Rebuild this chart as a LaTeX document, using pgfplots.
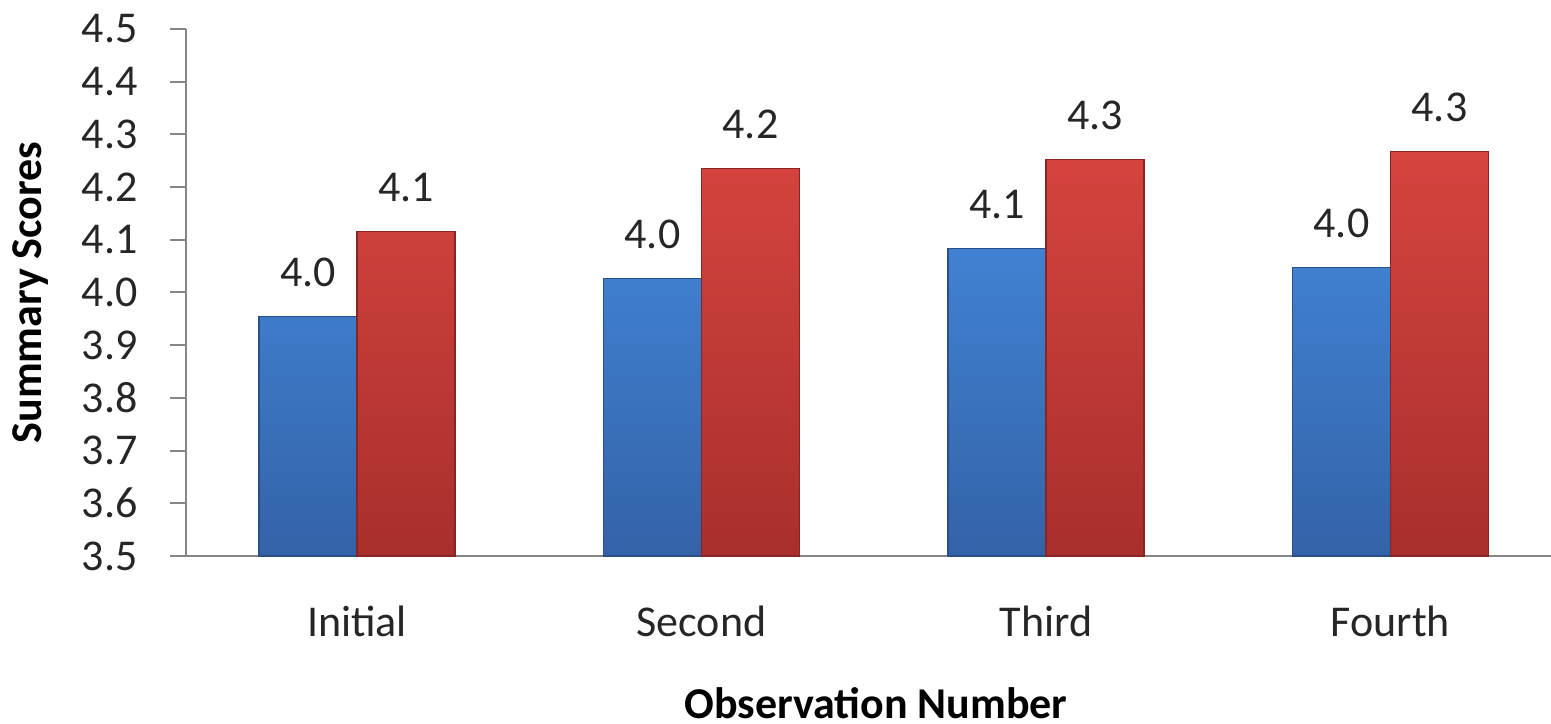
\documentclass[border=0pt]{standalone}
\usepackage{pgfplots}
\pgfplotsset{compat=1.18}
\usepackage{fontspec}
\setmainfont{Carlito}
\definecolor{barblue}{HTML}{4082D2}
\definecolor{barbluedark}{HTML}{3462A8}
\definecolor{barred}{HTML}{D6443F}
\definecolor{barreddark}{HTML}{A82F2C}
\definecolor{axisgray}{HTML}{868686}
\begin{document}
\fontsize{11pt}{13pt}\selectfont
\begin{tikzpicture}
\begin{axis}[
  name=ax,
  scale only axis,
  width=341.25pt, height=131.75pt,
  xmin=-0.4964, xmax=3.466,
  ymin=3.5, ymax=4.5,
  ytick={3.5,3.6,3.7,3.8,3.9,4.0,4.1,4.2,4.3,4.4,4.5},
  xtick={0,1,2,3},
  xticklabels={Initial,Second,Third,Fourth},
  axis x line*=bottom, axis y line*=left,
  axis line style={axisgray, line width=0.5pt, -},
  tick align=outside, major tick length=4pt,
  ytick style={axisgray, line width=0.5pt},
  xtick style={draw=none},
  /pgf/number format/assume math mode=true,
  yticklabel style={/pgf/number format/fixed, /pgf/number format/fixed zerofill, /pgf/number format/precision=1, xshift=-4.25pt},
  tick label style={font=\fontsize{11pt}{13pt}\selectfont, text=black!85},
  xticklabel style={anchor=base, yshift=-16.25pt},
  xlabel={Observation Number},
  ylabel={Summary Scores},
  label style={font=\bfseries\fontsize{11pt}{13pt}\selectfont},
  xlabel style={at={(axis description cs:0.5055,0)}, anchor=base, yshift=-40.75pt},
  ylabel style={at={(axis description cs:0,0.5)}, anchor=base, yshift=36pt},
  ybar=0pt, bar width=24.5pt,
  nodes near coords,
  nodes near coords style={/pgf/number format/fixed, /pgf/number format/fixed zerofill, /pgf/number format/precision=1},
  every node near coord/.append style={font=\fontsize{11pt}{13pt}\selectfont, text=black!85, anchor=base, yshift=7.5pt},
  clip=false,
]
\addplot[draw=barbluedark!80!black, line width=0.3pt, top color=barblue, bottom color=barbluedark]
  coordinates {(0,3.954) (1,4.026) (2,4.084) (3,4.048)};
\addplot[draw=barreddark!80!black, line width=0.3pt, top color=barred, bottom color=barreddark]
  coordinates {(0,4.115) (1,4.236) (2,4.253) (3,4.267)};
\end{axis}
\pgfresetboundingbox
\path ([xshift=-46.5pt,yshift=-42pt]ax.south west) rectangle ([yshift=7.25pt]ax.north east);
\end{tikzpicture}
\end{document}
